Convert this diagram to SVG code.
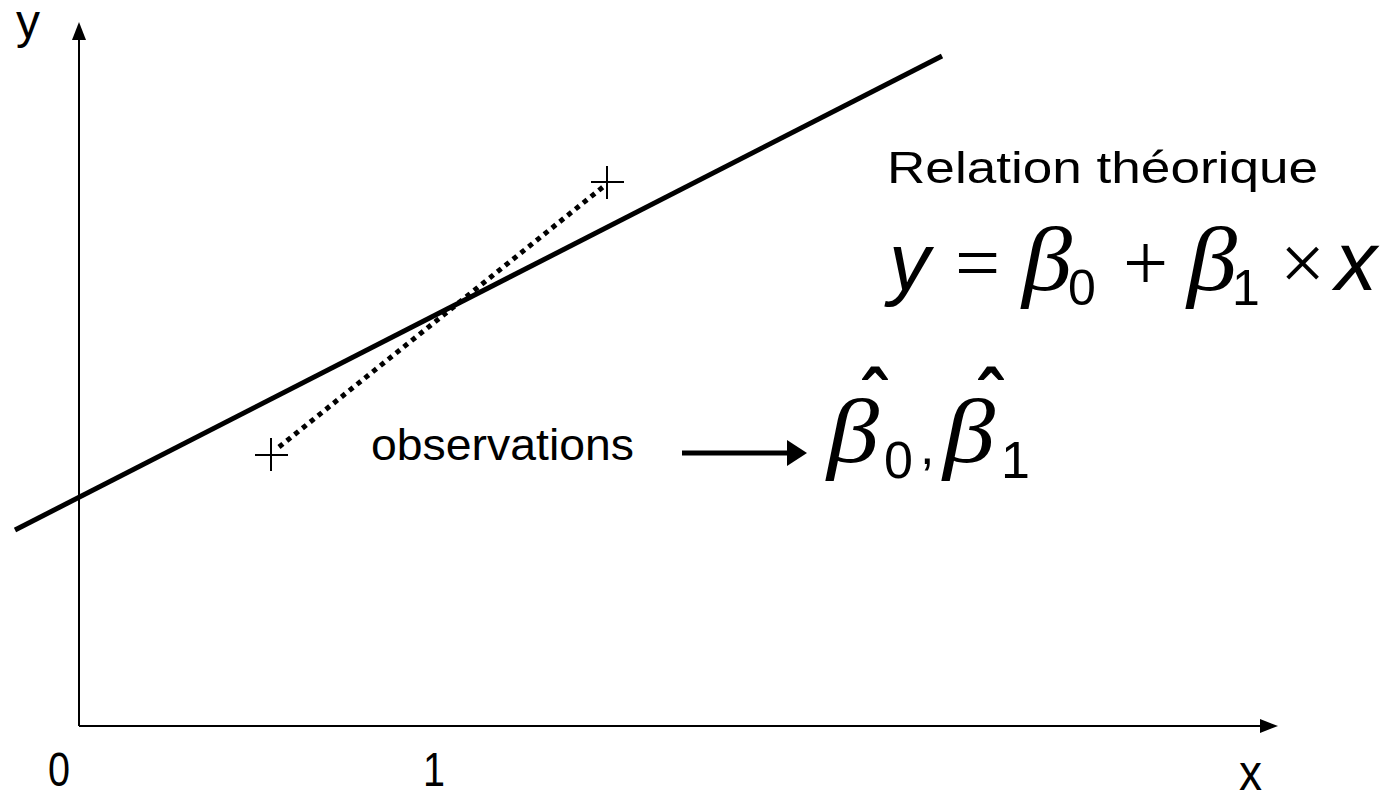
<svg xmlns="http://www.w3.org/2000/svg" width="1391" height="794" viewBox="0 0 1391 794">
<style>
.sans{font-family:"Liberation Sans",Arial,sans-serif;fill:#000}
.serif{font-family:"Liberation Serif","Times New Roman",serif;fill:#000}
.ax{stroke:#000;stroke-width:2;fill:none}
.mark{stroke:#000;stroke-width:2}
.hat{font-family:"Liberation Sans",Arial,sans-serif;font-weight:bold;fill:#000}
</style>
<rect width="1391" height="794" fill="#fff"/>
<g id="axes">
<line class="ax" x1="79" y1="726" x2="79" y2="38"/>
<polygon points="79,22 72,40 86,40" fill="#000"/>
<line class="ax" x1="79" y1="726" x2="1262" y2="726"/>
<polygon points="1278,726 1260,719 1260,733" fill="#000"/>
<text class="sans" x="16" y="38" font-size="48">y</text>
<text class="sans" x="48" y="786" font-size="48" textLength="22" lengthAdjust="spacingAndGlyphs">0</text>
<text class="sans" x="423" y="786" font-size="48" textLength="22" lengthAdjust="spacingAndGlyphs">1</text>
<text class="sans" x="1239" y="790" font-size="50" textLength="23" lengthAdjust="spacingAndGlyphs">x</text>
</g>
<g id="theoretical-line">
<line x1="15" y1="530" x2="942" y2="56" stroke="#000" stroke-width="5"/>
</g>
<g id="obs1">
<line class="mark" x1="255" y1="455" x2="288" y2="455"/>
<line class="mark" x1="271" y1="438" x2="271" y2="471"/>
</g>
<g id="obs2">
<line class="mark" x1="591" y1="182" x2="624" y2="182"/>
<line class="mark" x1="607" y1="166" x2="607" y2="199"/>
</g>
<g id="connectors">
<line x1="279" y1="447" x2="603" y2="187" stroke="#000" stroke-width="5" stroke-dasharray="5 5"/>
<line x1="682" y1="453" x2="790" y2="453" stroke="#000" stroke-width="5"/>
<polygon points="807,453 787,440 787,466" fill="#000"/>
</g>
<g id="relation">
<text class="sans" x="887" y="183" font-size="45" textLength="431" lengthAdjust="spacingAndGlyphs">Relation théorique</text>
<text class="sans" x="889" y="290" font-size="82" font-style="italic">y</text>
<text class="serif" x="955" y="290" font-size="80">=</text>
<text class="serif" x="1022" y="290" font-size="90" font-style="italic" textLength="50" lengthAdjust="spacingAndGlyphs">β</text>
<text class="sans" x="1068" y="305" font-size="50">0</text>
<text class="serif" x="1123" y="290" font-size="80">+</text>
<text class="serif" x="1187" y="290" font-size="90" font-style="italic" textLength="50" lengthAdjust="spacingAndGlyphs">β</text>
<text class="sans" x="1232" y="305" font-size="50">1</text>
<text class="serif" x="1280" y="290" font-size="80">×</text>
<text class="sans" x="1335" y="290" font-size="84" font-style="italic">x</text>
</g>
<g id="observations">
<text class="sans" x="371" y="460" font-size="45" textLength="263" lengthAdjust="spacingAndGlyphs">observations</text>
</g>
<g id="estimates">
<text class="serif" x="827" y="462" font-size="92" font-style="italic" textLength="52" lengthAdjust="spacingAndGlyphs">β</text>
<text class="hat" x="862" y="426" font-size="80" textLength="24" lengthAdjust="spacingAndGlyphs">ˆ</text>
<text class="sans" x="884" y="478" font-size="52">0</text>
<text class="sans" x="920" y="464" font-size="52">,</text>
<text class="serif" x="943" y="462" font-size="92" font-style="italic" textLength="52" lengthAdjust="spacingAndGlyphs">β</text>
<text class="hat" x="978" y="426" font-size="80" textLength="24" lengthAdjust="spacingAndGlyphs">ˆ</text>
<text class="sans" x="1001" y="478" font-size="52">1</text>
</g>
</svg>
